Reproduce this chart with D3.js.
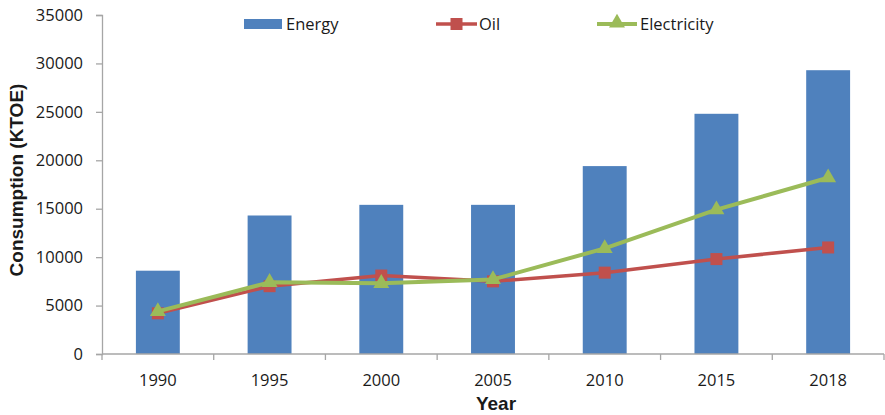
<!DOCTYPE html>
<html>
<head>
<meta charset="utf-8">
<script src="https://cdn.jsdelivr.net/npm/d3@7"></script>
<style>
  html, body { margin: 0; padding: 0; background: #fff; }
  svg { display: block; }
  text { font-family: "Open Sans", "DejaVu Sans", sans-serif; fill: #1a1a1a; }
</style>
</head>
<body>
<svg id="chart" width="885" height="415"></svg>
<script>
// Energy, oil and electricity consumption (KTOE) by year
const years = ["1990", "1995", "2000", "2005", "2010", "2015", "2018"];
const energy = [8600, 14300, 15400, 15400, 19400, 24800, 29300];
const oil = [4200, 7000, 8100, 7500, 8400, 9800, 11000];
const electricity = [4400, 7400, 7300, 7700, 10900, 14900, 18200];
const yTicks = [0, 5000, 10000, 15000, 20000, 25000, 30000, 35000];

const colors = { energy: "#4f81bd", oil: "#c0504d", electricity: "#9bbb59" };

const svg = d3.select("#chart");
const margin = { left: 102, right: 1, top: 15, bottom: 61 };
const W = 885, H = 415;
const plotW = W - margin.left - margin.right;
const plotH = H - margin.top - margin.bottom;

const g = svg.append("g").attr("transform", `translate(${margin.left},${margin.top})`);

const x = d3.scaleBand().domain(years).range([0, plotW]).paddingInner(0.607).paddingOuter(0.3035);
const xc = d3.scaleBand().domain(years).range([0, plotW]);
const y = d3.scaleLinear().domain([0, 35000]).range([plotH, 0]);

// Bars
g.selectAll("rect.bar").data(energy).join("rect")
  .attr("class", "bar")
  .attr("x", (d, i) => x(years[i]))
  .attr("width", x.bandwidth())
  .attr("y", d => y(d))
  .attr("height", d => plotH - y(d))
  .attr("fill", colors.energy);

// Y axis
const yAxis = d3.axisLeft(y).tickValues(yTicks).tickSize(6).tickPadding(13).tickFormat(d3.format("d"));
const ya = g.append("g").call(yAxis);
ya.select(".domain").attr("stroke", "#a6a6a6").attr("stroke-width", 1.3);
ya.selectAll(".tick line").attr("stroke", "#a6a6a6").attr("stroke-width", 1.3);
ya.selectAll(".tick text").style("font-size", "16.5px").attr("fill", "#1a1a1a");

// X axis with ticks between categories
const xa = g.append("g").attr("transform", `translate(0,${plotH})`);
xa.append("line").attr("x1", 0).attr("x2", plotW).attr("y1", 0).attr("y2", 0)
  .attr("stroke", "#a6a6a6").attr("stroke-width", 1.3);
const boundaries = years.map(d => xc(d)).concat([plotW]);
xa.selectAll("line.tk").data(boundaries).join("line")
  .attr("class", "tk")
  .attr("x1", d => d).attr("x2", d => d).attr("y1", 0).attr("y2", 6)
  .attr("stroke", "#a6a6a6").attr("stroke-width", 1.3);
xa.selectAll("text.lbl").data(years).join("text")
  .attr("class", "lbl")
  .attr("x", d => xc(d) + xc.bandwidth() / 2)
  .attr("y", 32)
  .attr("text-anchor", "middle")
  .style("font-size", "16.5px")
  .text(d => d);

// Lines and markers
const cx = (i) => xc(years[i]) + xc.bandwidth() / 2;
const line = d3.line().x((d, i) => cx(i)).y(d => y(d));

g.append("path").datum(oil).attr("d", line)
  .attr("fill", "none").attr("stroke", colors.oil).attr("stroke-width", 3.5)
  .attr("stroke-linejoin", "round");
g.selectAll("rect.oilm").data(oil).join("rect")
  .attr("class", "oilm")
  .attr("x", (d, i) => cx(i) - 6).attr("y", d => y(d) - 6)
  .attr("width", 12).attr("height", 12)
  .attr("fill", colors.oil);

g.append("path").datum(electricity).attr("d", line)
  .attr("fill", "none").attr("stroke", colors.electricity).attr("stroke-width", 4)
  .attr("stroke-linejoin", "round");
const tri = d3.symbol().type(d3.symbolTriangle).size(110);
g.selectAll("path.elm").data(electricity).join("path")
  .attr("class", "elm")
  .attr("transform", (d, i) => `translate(${cx(i)},${y(d)})`)
  .attr("d", tri)
  .attr("fill", colors.electricity);

// Axis titles
svg.append("text")
  .attr("transform", "translate(23,180) rotate(-90)")
  .attr("text-anchor", "middle")
  .style("font-family", "'Liberation Sans', Arial, sans-serif")
  .style("font-weight", "bold")
  .style("font-size", "19px")
  .text("Consumption (KTOE)");

svg.append("text")
  .attr("x", 496).attr("y", 410)
  .attr("text-anchor", "middle")
  .style("font-family", "'Liberation Sans', Arial, sans-serif")
  .style("font-weight", "bold")
  .style("font-size", "19px")
  .text("Year");

// Legend
const lg = svg.append("g").attr("transform", "translate(0,24)");
lg.append("rect").attr("x", 244).attr("y", -5).attr("width", 38).attr("height", 10).attr("fill", colors.energy);
lg.append("text").attr("x", 286).attr("y", 6).style("font-size", "16.5px").text("Energy");

lg.append("line").attr("x1", 436).attr("x2", 477).attr("y1", 0).attr("y2", 0)
  .attr("stroke", colors.oil).attr("stroke-width", 3.5);
lg.append("rect").attr("x", 450.5).attr("y", -6).attr("width", 12).attr("height", 12).attr("fill", colors.oil);
lg.append("text").attr("x", 479).attr("y", 6).style("font-size", "16.5px").text("Oil");

lg.append("line").attr("x1", 597).attr("x2", 637).attr("y1", 0).attr("y2", 0)
  .attr("stroke", colors.electricity).attr("stroke-width", 4);
lg.append("path").attr("transform", "translate(617,-1)").attr("d", tri).attr("fill", colors.electricity);
lg.append("text").attr("x", 640).attr("y", 6).style("font-size", "16.5px").text("Electricity");
</script>
</body>
</html>
